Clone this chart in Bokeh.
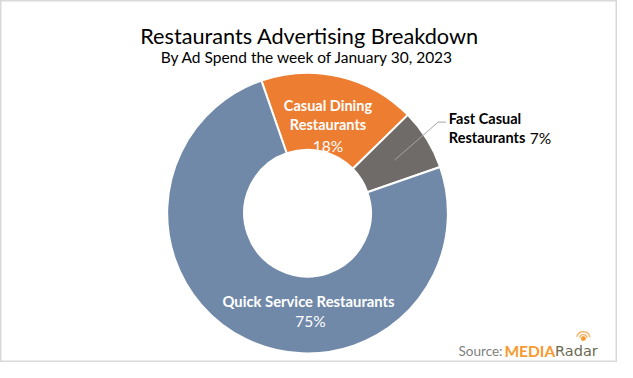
import math
from bokeh.plotting import figure
from bokeh.models import Range1d, ColumnDataSource
from bokeh.core.properties import value
from bokeh.embed import file_html
from bokeh.resources import INLINE

# ---- data ----
categories = ["Casual Dining Restaurants", "Fast Casual Restaurants", "Quick Service Restaurants"]
shares = [18, 7, 75]
colors = ["#ED7D31", "#6F6B68", "#7189A8"]

title = "Restaurants Advertising Breakdown"
subtitle = "By Ad Spend the week of January 30, 2023"

# ---- layout (reference image pixel coords, y down; mapped onto the figure) ----
W, H = 633, 378
FW, FH = 617, 362
SC = (FW / W + FH / H) / 2  # font scale
FONT = "Lato"
CX, CY = 315, 222
R_OUT, R_IN = 144, 65
START_CW = -19.2  # degrees clockwise from 12 o'clock for first slice

def Y(y):
    return H - y

p = figure(width=FW, height=FH, x_range=Range1d(0, W), y_range=Range1d(0, H),
           output_backend="svg", toolbar_location=None, min_border=0,
           x_axis_location=None, y_axis_location=None)
p.grid.visible = False
p.outline_line_color = "#D9D9D9"
p.outline_line_width = 2
p.background_fill_color = "white"
p.border_fill_color = "white"

total = float(sum(shares))
starts, ends, mids = [], [], []
s = START_CW
for v in shares:
    e = s + v / total * 360.0
    starts.append(math.radians(90 - e))
    ends.append(math.radians(90 - s))
    mids.append((s + e) / 2)
    s = e

src = ColumnDataSource(dict(cat=categories, share=shares, color=colors,
                            start=starts, end=ends))
p.annular_wedge(x=CX, y=Y(CY), inner_radius=R_IN, outer_radius=R_OUT,
                start_angle="start", end_angle="end", fill_color="color",
                line_color="white", line_width=2, source=src)

def txt(x, y, t, size, color, bold=False, align="center", font=FONT):
    p.text(x=[x], y=[Y(y)], text=[t], text_font=value(font),
           text_font_size=f"{size * SC:.1f}px", text_color=color,
           text_font_style="bold" if bold else "normal",
           text_align=align, text_baseline="alphabetic")

# title
txt(317, 37, title, 22.5, "black")
txt(315, 59, subtitle, 16, "black")

def pct(v):
    return f"{v}%"

# Casual Dining label (inside slice)
cx0 = 336
txt(cx0, 109.5, "Casual Dining", 15, "white", bold=True)
txt(cx0, 130, "Restaurants", 15, "white", bold=True)
txt(cx0, 152, pct(shares[0]), 16, "white")

# Quick Service label (inside slice)
txt(316, 314, categories[2], 15.3, "white", bold=True)
txt(318, 335, pct(shares[2]), 16, "white")

# Fast Casual label (outside with leader)
m = math.radians(mids[1])
lx0 = CX + 105 * math.sin(m)
ly0 = CY - 105 * math.cos(m)
p.line(x=[lx0, 449, 457], y=[Y(ly0), Y(127), Y(127)], line_color="#A6A6A6", line_width=1)
txt(460, 123, "Fast Casual", 15, "black", bold=True, align="left")
txt(460, 143.5, "Restaurants", 15, "black", bold=True, align="left")
txt(543, 143.5, pct(shares[1]), 16, "black", align="left")

# source
SB = 366
txt(515, SB, "Source:", 14, "#7F7F7F", align="right")
txt(517, SB, "MEDIA", 16, "#F79A2E", bold=True, align="left")
txt(569, SB, "Radar", 15, "#6B6A50", align="left", font="DejaVu Sans")
# radar logo mark above the "d"
ix, iy = 598, 353
p.arc(x=[ix, ix], y=[Y(iy), Y(iy)], radius=[4, 7], start_angle=0.2, end_angle=2.9,
      line_color="#F7B36A", line_width=1.3)
p.scatter(x=[ix], y=[Y(iy)], size=4, color="#F79A2E")

open("out.html", "w").write(file_html(p, INLINE))
